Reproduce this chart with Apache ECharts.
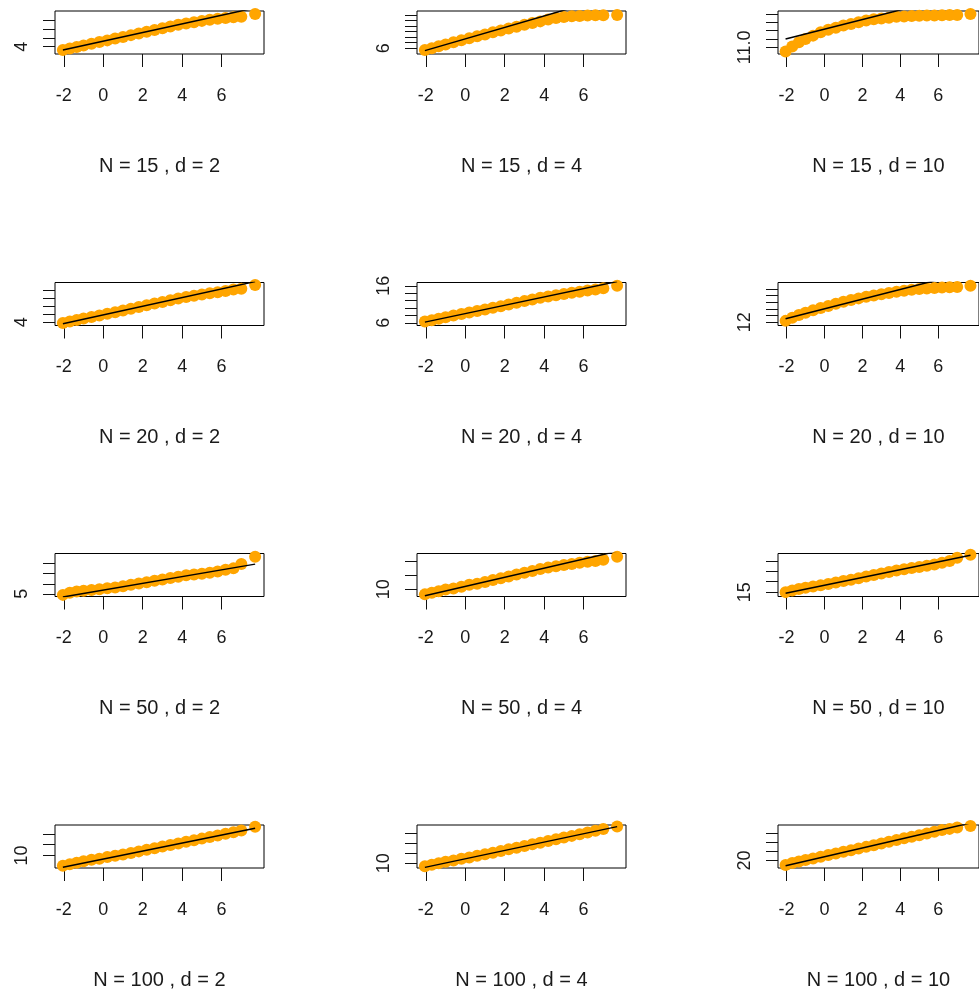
<!DOCTYPE html>
<html><head><meta charset="utf-8">
<script src="https://cdn.jsdelivr.net/npm/echarts@6/dist/echarts.min.js"></script>
<style>html,body{margin:0;padding:0;background:#fff}#c{width:979px;height:993px}</style>
</head><body><div id="c"></div>
<script>
// theoretical quantiles (shared x positions of the sample points)
const theoQ = [-2.05,-1.7,-1.35,-1.0,-0.6,-0.2,0.2,0.6,1.0,1.4,1.8,2.2,2.6,3.0,3.4,3.8,4.2,4.6,5.0,5.4,5.8,6.2,6.6,7.0,7.7];
const lineQ = [-2.05, 7.7];
const xTickVals = [-2, 0, 2, 4, 6];
const xRange = [-2.45, 8.15];

const panelTitles = [
  'N = 15 , d = 2','N = 15 , d = 4','N = 15 , d = 10',
  'N = 20 , d = 2','N = 20 , d = 4','N = 20 , d = 10',
  'N = 50 , d = 2','N = 50 , d = 4','N = 50 , d = 10',
  'N = 100 , d = 2','N = 100 , d = 4','N = 100 , d = 10'
];

// sample quantiles
const sN15d2  = [3.62,3.79,3.96,4.13,4.33,4.52,4.71,4.91,5.10,5.30,5.49,5.69,5.88,6.07,6.27,6.46,6.61,6.75,6.90,7.02,7.14,7.23,7.32,7.37,7.67];
const sN15d4  = [5.69,6.02,6.36,6.70,7.07,7.44,7.80,8.15,8.50,8.87,9.21,9.55,9.89,10.23,10.55,10.85,11.17,11.45,11.63,11.76,11.84,11.90,11.95,11.97,12.02];
const sN15d10 = [10.95,11.01,11.06,11.10,11.14,11.18,11.21,11.235,11.26,11.28,11.30,11.32,11.335,11.345,11.355,11.365,11.37,11.375,11.378,11.38,11.382,11.384,11.386,11.388,11.40];
const sN20d2  = [3.88,4.08,4.26,4.44,4.64,4.84,5.04,5.24,5.45,5.66,5.88,6.09,6.31,6.52,6.74,6.95,7.12,7.28,7.45,7.61,7.73,7.89,8.06,8.17,8.64];
const sN20d4  = [6.32,6.71,7.11,7.50,7.95,8.38,8.78,9.18,9.60,10.05,10.50,10.96,11.41,11.86,12.31,12.76,13.11,13.46,13.81,14.11,14.41,14.71,15.01,15.36,16.0];
const sN20d10 = [12.2,12.68,13.08,13.42,13.80,14.14,14.46,14.79,15.08,15.36,15.60,15.83,16.03,16.22,16.41,16.59,16.75,16.90,17.02,17.11,17.18,17.23,17.27,17.32,17.50];
const sN50d2  = [4.90,5.12,5.23,5.30,5.38,5.46,5.55,5.63,5.76,5.90,6.03,6.16,6.29,6.43,6.56,6.69,6.83,6.91,6.99,7.08,7.21,7.39,7.52,7.95,8.66];
const sN50d4  = [9.27,9.49,9.72,9.94,10.10,10.36,10.61,10.77,11.03,11.29,11.54,11.80,12.06,12.32,12.57,12.83,13.04,13.24,13.40,13.56,13.72,13.87,13.98,14.14,14.56];
const sN50d10 = [15.0,15.16,15.29,15.41,15.54,15.66,15.79,15.92,16.06,16.19,16.34,16.49,16.64,16.79,16.94,17.07,17.19,17.31,17.42,17.53,17.66,17.82,17.98,18.30,18.60];
const sN100d2 = [9.04,9.17,9.31,9.45,9.60,9.70,9.85,9.98,10.08,10.23,10.38,10.53,10.68,10.83,10.98,11.12,11.27,11.42,11.57,11.72,11.87,12.02,12.17,12.32,12.68];
const sN100d4 = [9.72,9.86,10.01,10.15,10.28,10.44,10.58,10.74,10.89,11.05,11.21,11.38,11.54,11.71,11.87,12.03,12.20,12.36,12.53,12.70,12.87,13.04,13.21,13.38,13.63];
const sN100d10= [19.50,19.72,19.88,20.05,20.22,20.40,20.58,20.76,20.93,21.11,21.29,21.47,21.65,21.83,22.02,22.21,22.40,22.57,22.74,22.92,23.11,23.30,23.42,23.58,23.72];

// fitted reference line, value at lineQ ends
const lN15d2 = [3.62, 8.36];
const lN15d4 = [5.58, 15.65];
const lN15d10 = [11.10, 11.66];
const lN20d2 = [3.81, 9.05];
const lN20d4 = [6.17, 17.15];
const lN20d10 = [12.51, 19.66];
const lN50d2 = [4.70, 7.94];
const lN50d4 = [9.07, 15.34];
const lN50d10 = [14.90, 18.55];
const lN100d2 = [8.89, 12.53];
const lN100d4 = [9.60, 13.61];
const lN100d10 = [19.43, 24.06];

// y axis ranges and ticks
const yRanges = [[3.18,8.01],[4.97,12.72],[10.92,11.435],[3.58,8.94],[5.26,16.9],[11.5,18.0],[4.74,8.99],[8.97,15.03],[14.58,18.71],[8.83,12.84],[9.54,13.77],[19.18,23.84]];
const yTicks = [[4,5,6,7],[6,7,8,9,10,11,12],[11.0,11.1,11.2,11.3,11.4],[4,5,6,7,8],[6,8,10,12,14,16],[12,13,14,15,16,17],[5,6,7,8],[10,12,14],[15,16,17,18],[10,11,12],[10,11,12,13],[20,21,22,23]];
const yLabelVals = [[4],[6],[11.0],[4],[6,16],[12],[5],[10],[15],[10],[10],[20]];
const yLabelTexts = [['4'],['6'],['11.0'],['4'],['6','16'],['12'],['5'],['10'],['15'],['10'],['10'],['20']];

const samples = [sN15d2,sN15d4,sN15d10,sN20d2,sN20d4,sN20d10,sN50d2,sN50d4,sN50d10,sN100d2,sN100d4,sN100d10];
const lines = [lN15d2,lN15d4,lN15d10,lN20d2,lN20d4,lN20d10,lN50d2,lN50d4,lN50d10,lN100d2,lN100d4,lN100d10];

const colLeft = [55, 417, 778];
const rowTop = [11, 282.5, 553.5, 825];
const boxW = 209, boxH = 43;
const FONT = 'Liberation Sans, Arial, sans-serif';

const grid = [], xAxis = [], yAxis = [], series = [];
for (let i = 0; i < 12; i++) {
  const r = Math.floor(i / 3), c = i % 3;
  grid.push({left: colLeft[c], top: rowTop[r], width: boxW, height: boxH, show: true,
    borderColor: '#000', borderWidth: 1, backgroundColor: 'transparent', containLabel: false});
  xAxis.push({type: 'value', gridIndex: i, min: xRange[0], max: xRange[1],
    name: panelTitles[i], nameLocation: 'middle', nameGap: 102,
    nameTextStyle: {fontFamily: FONT, fontSize: 20, color: '#1a1a1a'},
    axisLine: {show: false, onZero: false}, splitLine: {show: false},
    axisTick: {show: true, length: 13, customValues: xTickVals, lineStyle: {color: '#111', width: 1}},
    axisLabel: {show: true, customValues: xTickVals, margin: 33, fontFamily: FONT, fontSize: 18, color: '#1a1a1a'}});
  const texts = yLabelTexts[i], vals = yLabelVals[i];
  yAxis.push({type: 'value', gridIndex: i, min: yRanges[i][0], max: yRanges[i][1],
    axisLine: {show: false, onZero: false}, splitLine: {show: false},
    axisTick: {show: true, length: 12, customValues: yTicks[i], lineStyle: {color: '#111', width: 1}},
    axisLabel: {show: true, customValues: vals, rotate: 90, margin: 24, fontFamily: FONT, fontSize: 18, color: '#1a1a1a',
      formatter: function (v) { for (let k = 0; k < vals.length; k++) { if (Math.abs(vals[k] - v) < 1e-9) return texts[k]; } return ''; }}});
  series.push({type: 'scatter', xAxisIndex: i, yAxisIndex: i, symbolSize: 12, clip: true,
    itemStyle: {color: '#FFA500', opacity: 1}, silent: true, z: 2,
    data: theoQ.map((q, k) => [q, samples[i][k]])});
  series.push({type: 'line', xAxisIndex: i, yAxisIndex: i, clip: true, symbol: 'none', silent: true, z: 3,
    lineStyle: {color: '#000', width: 1.5},
    data: lineQ.map((q, k) => [q, lines[i][k]])});
}

const chart = echarts.init(document.getElementById('c'), null, {renderer: 'canvas'});
chart.setOption({animation: false, backgroundColor: '#fff', grid, xAxis, yAxis, series});
</script>
</body></html>
